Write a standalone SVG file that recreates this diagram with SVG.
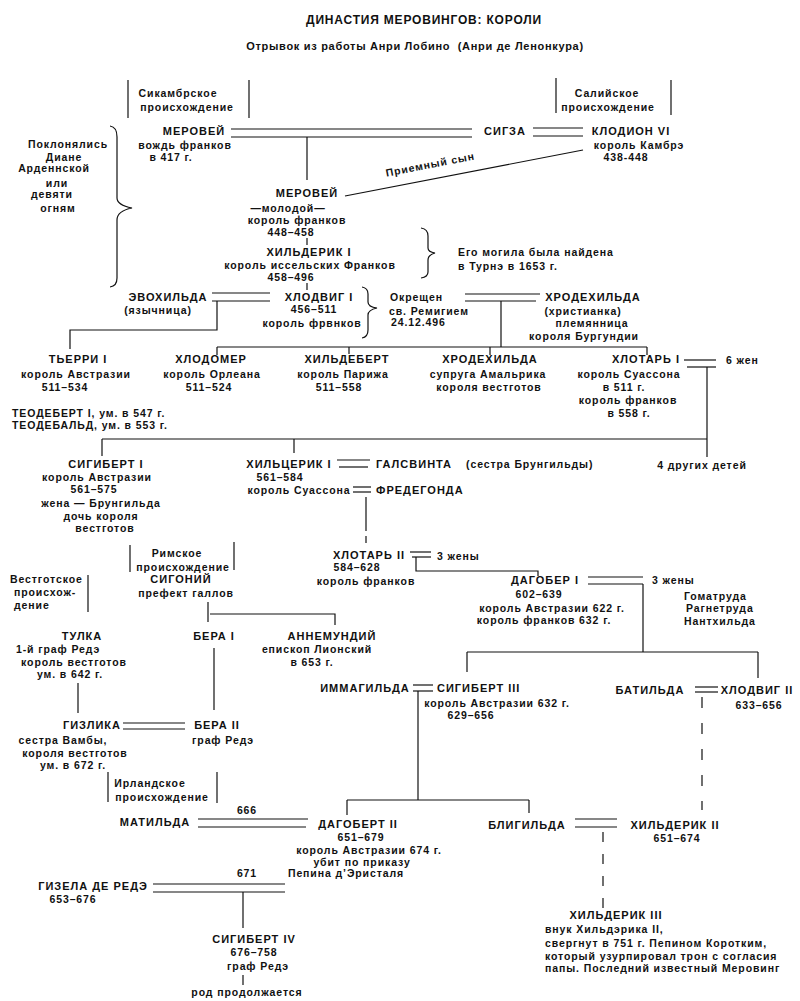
<svg xmlns="http://www.w3.org/2000/svg" width="800" height="1001" viewBox="0 0 800 1001">
<style>
text{font-family:"Liberation Sans",Arial,sans-serif;font-weight:bold;fill:#111;text-anchor:middle}
.n{font-size:11px;letter-spacing:1px}
.t{font-size:10.5px;letter-spacing:0.9px}
.s{text-anchor:start}
.ttl{font-size:12px;letter-spacing:0.8px}
.sub{font-size:11px;letter-spacing:0.7px}
#connectors line,#connectors path,#connectors polyline{stroke:#111;stroke-width:1.2;fill:none}
#connectors .d{stroke-dasharray:11 15}
</style>
<rect width="800" height="1001" fill="#fff"/>
<g id="title">
<text class="ttl" x="424" y="24">ДИНАСТИЯ МЕРОВИНГОВ: КОРОЛИ</text>
<text class="sub" x="415" y="50" xml:space="preserve">Отрывок из работы Анри Лобино  (Анри де Ленонкура)</text>
</g>
<g id="connectors">
<line x1="128" y1="80" x2="128" y2="118"/><line x1="249" y1="80" x2="249" y2="118"/>
<line x1="556" y1="78" x2="556" y2="113"/><line x1="671" y1="80" x2="671" y2="115"/>
<line x1="231" y1="129" x2="472" y2="129"/><line x1="231" y1="137" x2="472" y2="137"/>
<line x1="533" y1="128" x2="583" y2="128"/><line x1="533" y1="136" x2="583" y2="136"/>
<line x1="307" y1="137" x2="307" y2="180"/>
<line x1="345" y1="196" x2="583" y2="150"/>
<line x1="307" y1="238" x2="307" y2="245"/>
<line x1="307" y1="283" x2="307" y2="290"/>
<path d="M110,126 Q117,127 117,137 L117,198 Q117,205 132,208 Q117,211 117,220 L117,278 Q117,286 110,287"/>
<path d="M421,228 Q428,229 428,236 L428,248 Q428,252 435,253 Q428,255 428,260 L428,272 Q428,277 421,278"/>
<path d="M362,287 Q368,288 368,294 L368,302 Q368,307 377,308 Q368,310 368,315 L368,330 Q368,337 362,338"/>
<line x1="212" y1="293" x2="270" y2="293"/><line x1="212" y1="301" x2="270" y2="301"/>
<polyline points="217,301 217,330 70,330 70,349"/>
<line x1="465" y1="294" x2="540" y2="294"/><line x1="465" y1="301" x2="536" y2="301"/>
<line x1="501" y1="301" x2="501" y2="347"/>
<line x1="217" y1="347" x2="647" y2="347"/>
<line x1="217" y1="347" x2="217" y2="355"/><line x1="349" y1="347" x2="349" y2="354"/>
<line x1="490" y1="347" x2="490" y2="355"/><line x1="647" y1="347" x2="647" y2="355"/>
<line x1="684" y1="360" x2="716" y2="360"/><line x1="687" y1="367" x2="716" y2="367"/>
<line x1="707" y1="367" x2="707" y2="457"/>
<line x1="102" y1="439" x2="707" y2="439"/>
<line x1="102" y1="439" x2="102" y2="456"/><line x1="294" y1="439" x2="294" y2="453"/>
<line x1="337" y1="460" x2="370" y2="460"/><line x1="339" y1="467" x2="368" y2="467"/>
<line x1="353" y1="487" x2="371" y2="487"/><line x1="353" y1="492" x2="371" y2="492"/>
<line x1="366" y1="497" x2="366" y2="531"/><line x1="366" y1="536" x2="366" y2="543"/>
<line x1="410" y1="552" x2="431" y2="552"/><line x1="412" y1="557" x2="431" y2="557"/>
<polyline points="416,557 416,571 538,571 538,576"/>
<line x1="588" y1="577" x2="643" y2="577"/><line x1="588" y1="584" x2="643" y2="584"/>
<line x1="643" y1="584" x2="643" y2="652"/>
<line x1="467" y1="652" x2="758" y2="652"/>
<line x1="467" y1="652" x2="467" y2="672"/><line x1="758" y1="652" x2="758" y2="678"/>
<line x1="130" y1="545" x2="130" y2="572"/><line x1="234" y1="542" x2="234" y2="570"/>
<line x1="88" y1="575" x2="88" y2="612"/>
<line x1="208" y1="602" x2="208" y2="622"/>
<polyline points="210,614 335,614 335,625"/>
<line x1="78" y1="683" x2="78" y2="713"/>
<line x1="214" y1="648" x2="214" y2="710"/>
<line x1="123" y1="723" x2="185" y2="723"/><line x1="123" y1="729" x2="185" y2="729"/>
<line x1="413" y1="685" x2="433" y2="685"/><line x1="413" y1="691" x2="433" y2="691"/>
<line x1="418" y1="691" x2="418" y2="800"/>
<line x1="347" y1="800" x2="529" y2="800"/>
<line x1="347" y1="800" x2="347" y2="815"/><line x1="529" y1="800" x2="529" y2="813"/>
<line x1="695" y1="687" x2="718" y2="687"/><line x1="695" y1="692" x2="718" y2="692"/>
<line class="d" x1="702" y1="697" x2="702" y2="810"/>
<line x1="108" y1="772" x2="108" y2="802"/><line x1="217" y1="772" x2="217" y2="803"/>
<line x1="198" y1="819" x2="308" y2="819"/><line x1="198" y1="827" x2="306" y2="827"/>
<line x1="575" y1="819" x2="617" y2="819"/><line x1="575" y1="827" x2="617" y2="827"/>
<line class="d" x1="603" y1="832" x2="603" y2="908" style="stroke-dasharray:10 12"/>
<line x1="153" y1="884" x2="285" y2="884"/><line x1="153" y1="892" x2="285" y2="892"/>
<line x1="243" y1="892" x2="243" y2="928"/>
<line x1="243" y1="975" x2="243" y2="985"/>
</g>
<g id="sicambri"><text class="t" x="178" y="97">Сикамбрское</text><text class="t" x="187" y="111">происхождение</text></g>
<g id="salii"><text class="t" x="607" y="97">Салийское</text><text class="t" x="608" y="111">происхождение</text></g>
<g id="merovei"><text class="n" x="194" y="135">МЕРОВЕЙ</text><text class="t" x="185" y="149">вождь франков</text><text class="t" x="171" y="161">в 417 г.</text></g>
<g id="sigza"><text class="n" x="505" y="135">СИГЗА</text></g>
<g id="clodion"><text class="n" x="631" y="135">КЛОДИОН VI</text><text class="t" x="639" y="149">король Камбрэ</text><text class="t" x="626" y="161">438-448</text></g>
<g id="adopted"><text class="t" x="431" y="168" transform="rotate(-11 431 168)">Приемный сын</text></g>
<g id="diana"><text class="t" x="68" y="148">Поклонялись</text><text class="t" x="64" y="161">Диане</text><text class="t" x="54" y="172">Арденнской</text><text class="t" x="57" y="187">или</text><text class="t" x="52" y="198">девяти</text><text class="t" x="58" y="212">огням</text></g>
<g id="merovei-young"><text class="n" x="307" y="197">МЕРОВЕЙ</text><text class="t" x="288" y="212">—молодой—</text><text class="t" x="297" y="224">король франков</text><text class="t" x="291" y="236">448–458</text></g>
<g id="childeric1"><text class="n" x="309" y="256">ХИЛЬДЕРИК I</text><text class="t" x="310" y="269">король иссельских Франков</text><text class="t" x="291" y="281">458–496</text></g>
<g id="tomb"><text class="t s" x="458" y="256">Его могила была найдена</text><text class="t s" x="458" y="270">в Турнэ в 1653 г.</text></g>
<g id="evochilda"><text class="n" x="168" y="301">ЭВОХИЛЬДА</text><text class="t" x="158" y="314">(язычница)</text></g>
<g id="clovis1"><text class="n" x="319" y="301">ХЛОДВИГ I</text><text class="t" x="314" y="313">456–511</text><text class="t" x="312" y="327">король фрвнков</text></g>
<g id="baptism"><text class="t s" x="390" y="301">Окрещен</text><text class="t s" x="389" y="315">св. Ремигием</text><text class="t s" x="391" y="326">24.12.496</text></g>
<g id="clotilde"><text class="n" x="593" y="301">ХРОДЕХИЛЬДА</text><text class="t" x="583" y="315">(христианка)</text><text class="t" x="592" y="327">племянница</text><text class="t" x="584" y="340">короля Бургундии</text></g>
<g id="thierry1"><text class="n" x="78" y="363">ТЬЕРРИ I</text><text class="t" x="76" y="378">король Австразии</text><text class="t" x="65" y="391">511–534</text></g>
<g id="clodomir"><text class="n" x="211" y="363">ХЛОДОМЕР</text><text class="t" x="212" y="378">король Орлеана</text><text class="t" x="209" y="391">511–524</text></g>
<g id="childebert"><text class="n" x="347" y="363">ХИЛЬДЕБЕРТ</text><text class="t" x="343" y="378">король Парижа</text><text class="t" x="339" y="391">511–558</text></g>
<g id="clotilde2"><text class="n" x="490" y="363">ХРОДЕХИЛЬДА</text><text class="t" x="488" y="378">супруга Амальрика</text><text class="t" x="489" y="391">короля вестготов</text></g>
<g id="clotaire1"><text class="n" x="646" y="363">ХЛОТАРЬ I</text><text class="t" x="629" y="378">король Суассона</text><text class="t" x="624" y="391">в 511 г.</text><text class="t" x="628" y="404">король франков</text><text class="t" x="629" y="417">в 558 г.</text></g>
<g id="wives6"><text class="t s" x="726" y="364">6 жен</text></g>
<g id="theodebert"><text class="t s" x="12" y="417">ТЕОДЕБЕРТ I, ум. в 547 г.</text><text class="t s" x="12" y="429">ТЕОДЕБАЛЬД, ум. в 553 г.</text></g>
<g id="other4"><text class="t" x="702" y="469">4 других детей</text></g>
<g id="sigebert1"><text class="n" x="106" y="468">СИГИБЕРТ I</text><text class="t" x="97" y="481">король Австразии</text><text class="t" x="94" y="493">561–575</text><text class="t" x="101" y="507">жена — Брунгильда</text><text class="t" x="101" y="520">дочь короля</text><text class="t" x="105" y="532">вестготов</text></g>
<g id="chilperic1"><text class="n" x="289" y="468">ХИЛЬЦЕРИК I</text><text class="t" x="280" y="481">561–584</text><text class="t" x="299" y="494">король Суассона</text></g>
<g id="galswintha"><text class="n s" x="376" y="468">ГАЛСВИНТА</text><text class="t s" x="466" y="468">(сестра Брунгильды)</text></g>
<g id="fredegonde"><text class="n s" x="376" y="494">ФРЕДЕГОНДА</text></g>
<g id="clotaire2"><text class="n" x="369" y="559">ХЛОТАРЬ II</text><text class="t" x="357" y="571">584–628</text><text class="t" x="366" y="585">король франков</text></g>
<g id="wives3a"><text class="t s" x="437" y="560">3 жены</text></g>
<g id="dagobert1"><text class="n" x="545" y="584">ДАГОБЕР I</text><text class="t" x="539" y="598">602–639</text><text class="t" x="552" y="612">король Австразии 622 г.</text><text class="t" x="544" y="624">король франков 632 г.</text></g>
<g id="wives3b"><text class="t s" x="652" y="584">3 жены</text><text class="t s" x="684" y="600">Гоматруда</text><text class="t s" x="686" y="612">Рагнетруда</text><text class="t s" x="684" y="625">Нантхильда</text></g>
<g id="romans"><text class="t" x="177" y="557">Римское</text><text class="t" x="183" y="571">происхождение</text></g>
<g id="sigonius"><text class="n" x="181" y="583">СИГОНИЙ</text><text class="t" x="186" y="597">префект галлов</text></g>
<g id="visigoth"><text class="t s" x="10" y="583">Вестготское</text><text class="t s" x="14" y="596">происхож-</text><text class="t s" x="14" y="609">дение</text></g>
<g id="tulca"><text class="n" x="82" y="640">ТУЛКА</text><text class="t" x="58" y="653">1-й граф Редэ</text><text class="t" x="74" y="666">король вестготов</text><text class="t" x="70" y="678">ум. в 642 г.</text></g>
<g id="bera1"><text class="n" x="214" y="640">БЕРА I</text></g>
<g id="annemundus"><text class="n" x="332" y="640">АННЕМУНДИЙ</text><text class="t" x="317" y="653">епископ Лионский</text><text class="t" x="312" y="666">в 653 г.</text></g>
<g id="immagilda"><text class="n" x="365" y="692">ИММАГИЛЬДА</text></g>
<g id="sigebert3"><text class="n s" x="437" y="692">СИГИБЕРТ III</text><text class="t" x="497" y="707">король Австразии 632 г.</text><text class="t" x="471" y="719">629–656</text></g>
<g id="bathilda"><text class="n" x="650" y="694">БАТИЛЬДА</text></g>
<g id="clovis2"><text class="n" x="757" y="694">ХЛОДВИГ II</text><text class="t" x="759" y="709">633–656</text></g>
<g id="gislica"><text class="n" x="92" y="729">ГИЗЛИКА</text><text class="t" x="63" y="744">сестра Вамбы,</text><text class="t" x="75" y="757">короля вестготов</text><text class="t" x="73" y="769">ум. в 672 г.</text></g>
<g id="bera2"><text class="n" x="217" y="729">БЕРА II</text><text class="t" x="223" y="744">граф Редэ</text></g>
<g id="irish"><text class="t" x="150" y="787">Ирландское</text><text class="t" x="162" y="801">происхождение</text></g>
<g id="y666"><text class="t" x="247" y="814">666</text></g>
<g id="matilda"><text class="n" x="155" y="826">МАТИЛЬДА</text></g>
<g id="dagobert2"><text class="n" x="358" y="828">ДАГОБЕРТ II</text><text class="t" x="361" y="841">651–679</text><text class="t" x="369" y="854">король Австразии 674 г.</text><text class="t" x="362" y="866">убит по приказу</text><text class="t" x="346" y="877">Пепина д’Эристаля</text></g>
<g id="bilichild"><text class="n" x="527" y="829">БЛИГИЛЬДА</text></g>
<g id="childeric2"><text class="n" x="675" y="829">ХИЛЬДЕРИК II</text><text class="t" x="677" y="842">651–674</text></g>
<g id="y671"><text class="t" x="247" y="877">671</text></g>
<g id="gisele"><text class="n" x="93" y="890">ГИЗЕЛА ДЕ РЕДЭ</text><text class="t" x="73" y="903">653–676</text></g>
<g id="sigebert4"><text class="n" x="254" y="943">СИГИБЕРТ IV</text><text class="t" x="254" y="956">676–758</text><text class="t" x="258" y="970">граф Редэ</text><text class="t" x="247" y="996">род продолжается</text></g>
<g id="childeric3"><text class="n" x="616" y="919">ХИЛЬДЕРИК III</text><text class="t s" x="545" y="933">внук Хильдэрика II,</text><text class="t s" x="545" y="947">свергнут в 751 г. Пепином Коротким,</text><text class="t s" x="545" y="960">который узурпировал трон с согласия</text><text class="t s" x="545" y="972">папы. Последний известный Меровинг</text></g>
</svg>
